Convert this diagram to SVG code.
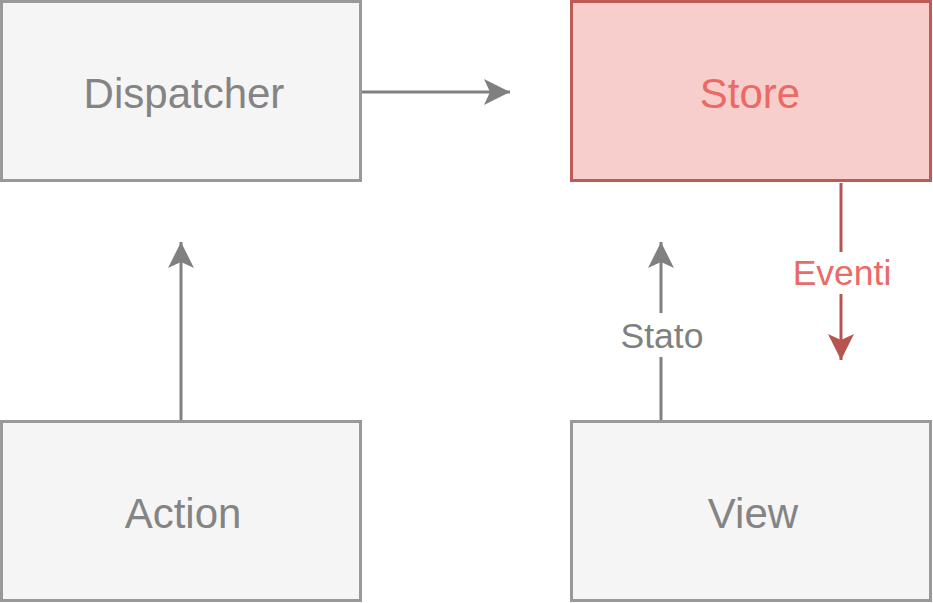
<svg xmlns="http://www.w3.org/2000/svg" width="933" height="603" viewBox="0 0 933 603">
<style>
.box{fill:#f5f5f5;stroke:#999999;stroke-width:3}
.red{fill:#f8cecc;stroke:#bf5b57;stroke-width:3}
.t{font-family:"Liberation Sans",Arial,sans-serif;font-size:42px;text-anchor:middle;fill:#848484}
.tr{fill:#ea6b66}
.lbl{font-family:"Liberation Sans",Arial,sans-serif;font-size:35.5px;text-anchor:middle}
.g{stroke:#808080;stroke-width:3;fill:none}
.r{stroke:#b85450;stroke-width:3;fill:none}
</style>
<defs>
<marker id="ag" viewBox="0 0 28 28" refX="27" refY="14" markerWidth="28" markerHeight="28" markerUnits="userSpaceOnUse" orient="auto">
<path d="M1,1 L27,14 L1,27 L7,14 Z" fill="#808080"/>
</marker>
<marker id="ar" viewBox="0 0 28 28" refX="27" refY="14" markerWidth="28" markerHeight="28" markerUnits="userSpaceOnUse" orient="auto">
<path d="M1,1 L27,14 L1,27 L7,14 Z" fill="#b85450"/>
</marker>
</defs>
<g id="connectors">
<path class="g" d="M362,92 H510" marker-end="url(#ag)"/>
<path class="g" d="M181,420 V242" marker-end="url(#ag)"/>
<path class="g" d="M661,420 V357 M661,313 V242" marker-end="url(#ag)"/>
<text class="lbl" x="662" y="348" fill="#808080">Stato</text>
<path class="r" d="M841,183 V252 M841,294 V360" marker-end="url(#ar)"/>
<text class="lbl" x="842" y="285" fill="#ea6b66">Eventi</text>
</g>
<g id="dispatcher">
<rect class="box" x="1.5" y="1.5" width="359" height="179"/>
<text class="t" x="184" y="108">Dispatcher</text>
</g>
<g id="store">
<rect class="red" x="571.5" y="1.5" width="359" height="179"/>
<text class="t tr" x="750" y="108">Store</text>
</g>
<g id="action">
<rect class="box" x="1.5" y="421.5" width="359" height="179"/>
<text class="t" x="183" y="528">Action</text>
</g>
<g id="view">
<rect class="box" x="571.5" y="421.5" width="359" height="179"/>
<text class="t" x="753" y="528">View</text>
</g>
</svg>
